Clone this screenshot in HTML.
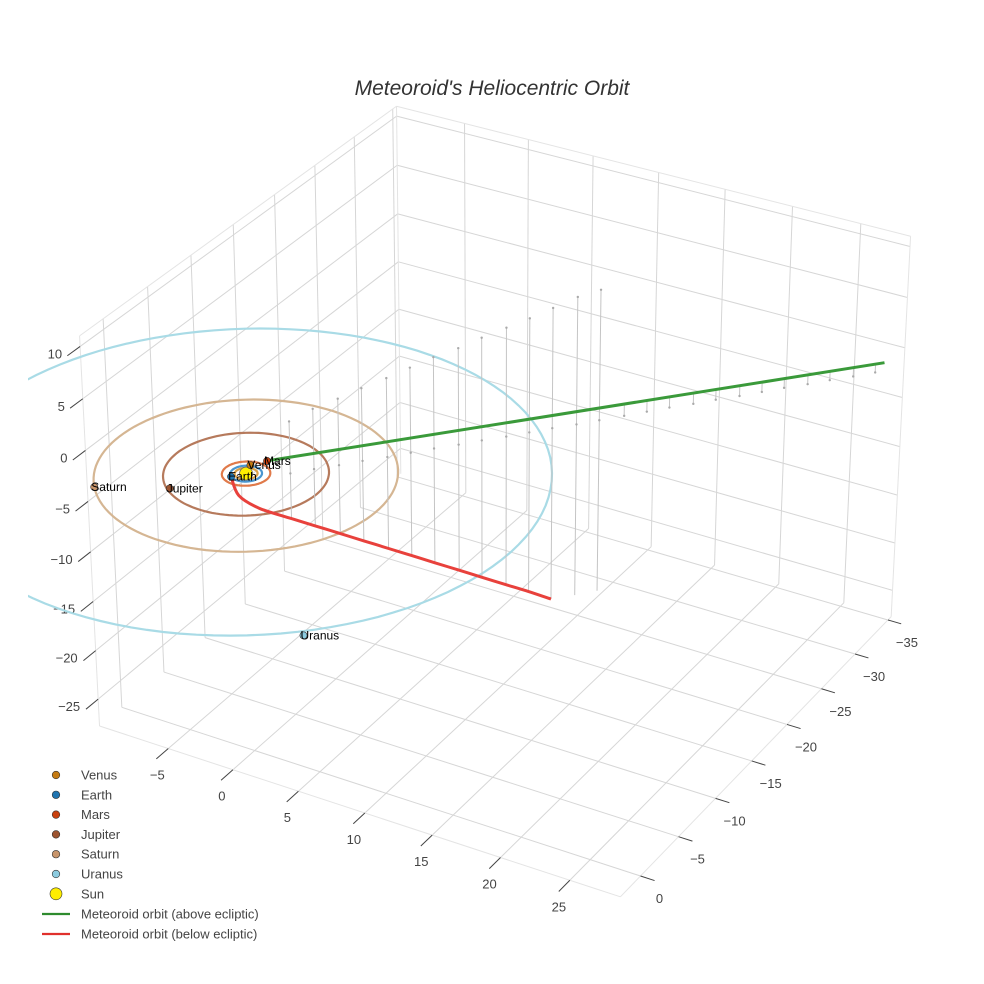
<!DOCTYPE html>
<html><head><meta charset="utf-8">
<style>
html,body{margin:0;padding:0;background:#fff;}
svg{display:block;font-family:"Liberation Sans",Arial,sans-serif;}
</style></head>
<body>
<svg id="chart" width="984" height="984" viewBox="0 0 984 984" xmlns="http://www.w3.org/2000/svg">
<defs><clipPath id="sceneClip"><rect x="28" y="100" width="956" height="800"/></clipPath></defs>
<rect x="0" y="0" width="984" height="984" fill="#fff"/>
<text x="492" y="95" text-anchor="middle" font-size="21" font-style="italic" fill="#333">Meteoroid's Heliocentric Orbit</text>
<g id="grid"></g>
<g id="axes"></g>
<g id="plot" clip-path="url(#sceneClip)"></g>
<g id="legend"></g>
</svg>
<script>
// ---- data ----
const planetNames = ["Venus","Earth","Mars","Jupiter","Saturn","Uranus"];
const planetRadius = [0.72,1.0,1.52,5.2,9.54,19.2];
const planetAngleDeg = [-100,127,-62,123,140,47];
const planetZ = [0.3,0,0.6,0.4,0,-0.4];
const planetColors = ["#c47a12","#1f74b0","#c8410f","#9c5430","#c8956b","#8ccbdf"];
const orbitColors = ["#d9a04a","#4a95cf","#e07a4a","#b67a5c","#d5b693","#a9dbe6"];
const trackX = [2.4,3.4,4.5,5.5,6.6,7.6,8.6,9.7,10.7,11.8,12.8,13.8,14.9,15.9,17.0,18.0,19.0,20.1,21.1,22.2,23.2,24.2,25.3,26.3,27.4,28.4];
const trackY = [-1.4,-2.6,-3.8,-5.0,-6.2,-7.4,-8.6,-9.8,-11.0,-12.2,-13.4,-14.6,-15.8,-17.0,-18.3,-19.5,-20.7,-21.9,-23.1,-24.3,-25.5,-26.7,-27.9,-29.1,-30.3,-31.5];
const topZ = [5,5.8,6.4,7,7.6,8.2,8.8,9.3,9.9,10.5,11,11.6,12.3,12.6,0,0,0,0,0,0,0,0,0,0,0,0];
const bottomZ = [-4.4,-5.55,-6.7,-7.85,-9.0,-10.15,-11.3,-12.45,-13.6,-14.75,-15.9,-17.1,-17.1,-17.1,0,0,0,0,0,0,0,0,0,0,0,0];
const greenZ = [1.3,1.3,1.3,1.3,1.3,1.3,1.3,1.3,1.2,1.2,1.2,1.2,1.2,1.1,1.1,1.1,1.0,1.0,1.0,1.0,0.9,0.9,0.9,0.9,0.8,0.8];
const greenStart = [0.7,-1.34,0.6];
const greenEnd = [28.8,-32.0,0.8];
const redStartX = [-0.6,-0.2,0.7];
const redStartY = [0.8,0.6,-0.3];
const redStartZ = [0,-1.8,-3.3];
const redCount = 12;
const xTicks = [-5,0,5,10,15,20,25];
const yTicks = [0,-5,-10,-15,-20,-25,-30,-35];
const zTicks = [10,5,0,-5,-10,-15,-20,-25];
const X0=-10.4,X1=28.6,Y0=-35.5,Y1=2.6,Z0=-27.8,Z1=11;

// ---- camera calibration (DLT) ----
const calib = [
 [X0,Y1,Z0,99,726],[X1,Y1,Z0,619,895],[X1,Y0,Z0,895,613],[X0,Y1,Z1,80,335],
 [X0,Y0,Z1,395,108],[X1,Y0,Z1,912,237],
 [-5,Y1,Z0,171,749],[5,Y1,Z0,300,793],[15,Y1,Z0,433,837],[25,Y1,Z0,571,882],
 [X1,-10,Z0,713,798],[X1,-20,Z0,785,725],[X1,-30,Z0,853,655],
 [X0,Y1,10,80.5,345],[X0,Y1,-10,89.5,551],[X0,Y1,-25,97,698]
];
function solveDLT(){
  const A=[],b=[];
  calib.forEach(c=>{const[X,Y,Z,u,v]=c;
    A.push([X,Y,Z,1,0,0,0,0,-u*X,-u*Y,-u*Z]);b.push(u);
    A.push([0,0,0,0,X,Y,Z,1,-v*X,-v*Y,-v*Z]);b.push(v);});
  const n=11,M=[];
  for(let i=0;i<n;i++){M.push([]);for(let j=0;j<=n;j++){let s=0;
    for(let k=0;k<A.length;k++)s+=A[k][i]*(j<n?A[k][j]:b[k]);M[i].push(s);}}
  for(let i=0;i<n;i++){let p=i;for(let r=i+1;r<n;r++)if(Math.abs(M[r][i])>Math.abs(M[p][i]))p=r;
    [M[i],M[p]]=[M[p],M[i]];
    for(let r=0;r<n;r++){if(r===i)continue;const f=M[r][i]/M[i][i];for(let j=i;j<=n;j++)M[r][j]-=f*M[i][j];}}
  return M.map((r,i)=>r[n]/r[i]);
}
const P=solveDLT();
function proj(x,y,z){const w=P[8]*x+P[9]*y+P[10]*z+1;
  return [(P[0]*x+P[1]*y+P[2]*z+P[3])/w,(P[4]*x+P[5]*y+P[6]*z+P[7])/w];}
const NS="http://www.w3.org/2000/svg";
function el(tag,attrs,parent){const e=document.createElementNS(NS,tag);for(const k in attrs)e.setAttribute(k,attrs[k]);parent.appendChild(e);return e;}
function line3(a,b,parent,stroke,w){const p=proj(...a),q=proj(...b);
  return el("line",{x1:p[0],y1:p[1],x2:q[0],y2:q[1],stroke:stroke,"stroke-width":w},parent);}
function pathPts(pts){return pts.map((p,i)=>(i?"L":"M")+p[0].toFixed(1)+" "+p[1].toFixed(1)).join(" ");}
function smoothPath(pts){let d="M"+pts[0][0].toFixed(1)+" "+pts[0][1].toFixed(1);
  for(let i=0;i<pts.length-1;i++){const p0=pts[Math.max(0,i-1)],p1=pts[i],p2=pts[i+1],p3=pts[Math.min(pts.length-1,i+2)];
    const c1=[p1[0]+(p2[0]-p0[0])/6,p1[1]+(p2[1]-p0[1])/6],c2=[p2[0]-(p3[0]-p1[0])/6,p2[1]-(p3[1]-p1[1])/6];
    d+=" C"+c1[0].toFixed(1)+" "+c1[1].toFixed(1)+" "+c2[0].toFixed(1)+" "+c2[1].toFixed(1)+" "+p2[0].toFixed(1)+" "+p2[1].toFixed(1);}
  return d;}

const grid=document.getElementById("grid"),axes=document.getElementById("axes"),plot=document.getElementById("plot"),legend=document.getElementById("legend");
const gc="#d6d6d6";
xTicks.forEach(x=>{const l=line3([x,Y0,Z0],[x,Y1,Z0],grid,gc,1);

});
yTicks.forEach(y=>{const l=line3([X0,y,Z0],[X1,y,Z0],grid,gc,1);

});
yTicks.forEach(y=>{const l=line3([X0,y,Z0],[X0,y,Z1],grid,gc,1);

});
zTicks.forEach(z=>{const l=line3([X0,Y0,z],[X0,Y1,z],grid,gc,1);

});
xTicks.forEach(x=>{const l=line3([x,Y0,Z0],[x,Y0,Z1],grid,gc,1);

});
zTicks.forEach(z=>{const l=line3([X0,Y0,z],[X1,Y0,z],grid,gc,1);

});
[[[X0,Y1,Z1],[X0,Y0,Z1]],[[X0,Y0,Z1],[X1,Y0,Z1]],[[X1,Y0,Z1],[X1,Y0,Z0]],[[X0,Y0,Z0],[X0,Y0,Z1]],
 [[X0,Y1,Z0],[X1,Y1,Z0]],[[X1,Y1,Z0],[X1,Y0,Z0]],[[X0,Y1,Z0],[X0,Y1,Z1]]].forEach(e=>{
 const l=line3(e[0],e[1],grid,"#e4e4e4",1);
 
 });
xTicks.forEach(x=>{const l=line3([x,Y1,Z0],[x,Y1+1.4,Z0],axes,"#444",1);
 
 
 const p=proj(x,Y1,Z0);
 const t=el("text",{x:p[0]-11,y:p[1]+31,"text-anchor":"middle","font-size":13,fill:"#444"},axes);
 t.textContent=String(x).replace("-","\u2212");
 
 });
yTicks.forEach(y=>{const l=line3([X1,y,Z0],[X1+1.0,y,Z0],axes,"#444",1);
 
 
 const p=proj(X1,y,Z0);
 const t=el("text",{x:p[0]+19,y:p[1]+27,"text-anchor":"middle","font-size":13,fill:"#444"},axes);
 t.textContent=String(y).replace("-","\u2212");
 
 });
zTicks.forEach(z=>{const l=line3([X0,Y1,z],[X0,Y1+1.4,z],axes,"#444",1);
 
 
 const p=proj(X0,Y1,z);
 const t=el("text",{x:p[0]-18,y:p[1]+12,"text-anchor":"end","font-size":13,fill:"#444"},axes);
 t.textContent=String(z).replace("-","\u2212");
 
 });

planetRadius.forEach((r,i)=>{const pts=[];for(let k=0;k<=120;k++){const a=k/120*2*Math.PI;pts.push(proj(r*Math.cos(a),r*Math.sin(a),0));}
 const o=el("path",{d:pathPts(pts)+"Z",fill:"none",stroke:orbitColors[i],"stroke-width":2.2},plot);
 
 });

trackX.forEach((x,i)=>{const y=trackY[i];
 let lo,hi;
 if(topZ[i]>0){lo=bottomZ[i];hi=topZ[i];}else{lo=0;hi=greenZ[i];}
 const l=line3([x,y,lo],[x,y,hi],plot,"#c4c4c4",1);
 
 
 const m=proj(x,y,0);
 const c=el("circle",{cx:m[0],cy:m[1],r:1.2,fill:"#aaa"},plot);
 
 
 if(topZ[i]>0){const q=proj(x,y,topZ[i]);
  const c2=el("circle",{cx:q[0],cy:q[1],r:1.2,fill:"#aaa"},plot);
  
  }
});

const gpts=[proj(...greenStart),proj(...greenEnd)];
const g=el("path",{d:pathPts(gpts),fill:"none",stroke:"#3a9a3a","stroke-width":3},plot);


const rpts=redStartX.map((x,i)=>proj(x,redStartY[i],redStartZ[i]));
for(let i=0;i<redCount;i++)rpts.push(proj(trackX[i],trackY[i],bottomZ[i]));
const rd=el("path",{d:smoothPath(rpts),fill:"none",stroke:"#e8413c","stroke-width":3,"stroke-linejoin":"round"},plot);



const s=proj(0,0,0);
const sun=el("circle",{cx:s[0],cy:s[1],r:6.5,fill:"#ffee00",stroke:"#666","stroke-width":0.8},plot);


planetNames.forEach((n,i)=>{const a=planetAngleDeg[i]*Math.PI/180,r=planetRadius[i];
 const p=proj(r*Math.cos(a),r*Math.sin(a),planetZ[i]);
 const c=el("circle",{cx:p[0],cy:p[1],r:3.6,fill:planetColors[i],stroke:"#333","stroke-width":0.6},plot);
 
 
 const t=el("text",{x:p[0]-3,y:p[1]+4,"font-size":12,fill:"#000"},plot);
 t.textContent=n;
 
 });

const legNames=["Venus","Earth","Mars","Jupiter","Saturn","Uranus","Sun"];
const legColors=planetColors.concat(["#ffee00"]);
legNames.forEach((n,i)=>{const y=775+i*19.8;
 const c=el("circle",{cx:56,cy:y,r:i===6?6:3.8,fill:legColors[i],stroke:"#333","stroke-width":0.6},legend);
 
 
 const t=el("text",{x:81,y:y+4.5,"font-size":13,fill:"#444"},legend);
 t.textContent=n;
 
 });
[["Meteoroid orbit (above ecliptic)","#2e8b2e"],["Meteoroid orbit (below ecliptic)","#e0302c"]].forEach((d,i)=>{const y=914+i*20;
 const l=el("line",{x1:42,y1:y,x2:70,y2:y,stroke:d[1],"stroke-width":2.2},legend);
 
 
 const t=el("text",{x:81,y:y+4.5,"font-size":13,fill:"#444"},legend);
 t.textContent=d[0];
 
 });
</script>
</body></html>
